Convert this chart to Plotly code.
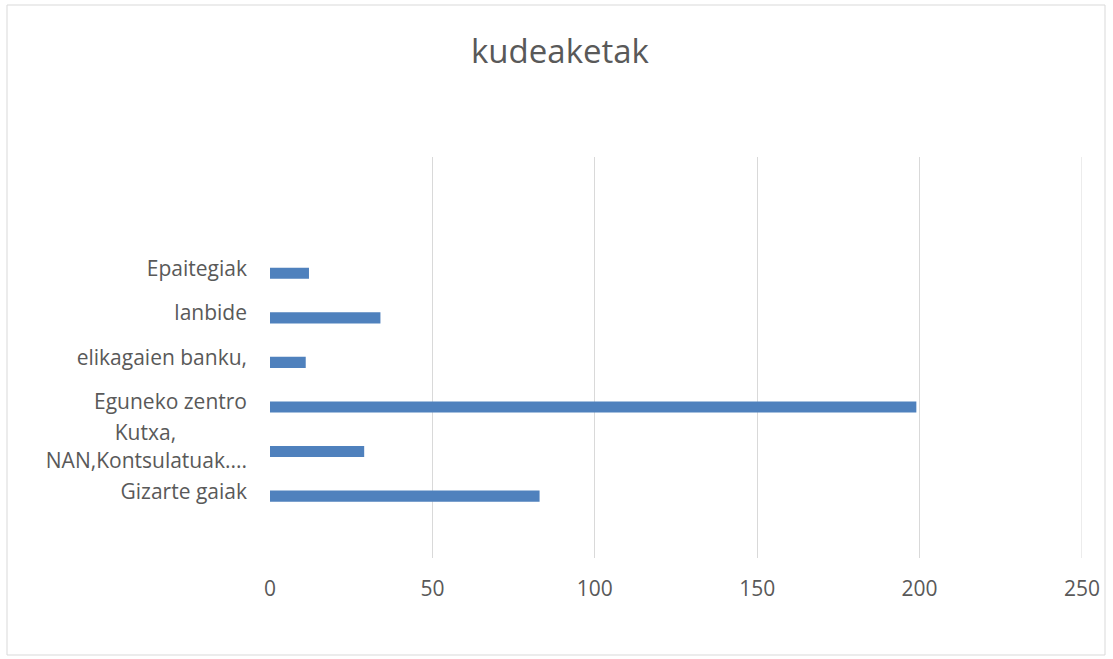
import plotly.graph_objects as go

title_text = "kudeaketak"
categories = ["Gizarte gaiak", "Kutxa," + "\u00a0" * 13 + "<br>NAN,Kontsulatuak....",
              "Eguneko zentro", "elikagaien banku,", "lanbide", "Epaitegiak"]
values = [83, 29, 199, 11, 34, 12]
x_ticks = [0, 50, 100, 150, 200, 250]

positions = list(range(len(categories)))

W, H = 1113, 659
L, R, T, B = 270, 31, 157, 101
pw, ph = W - L - R, H - T - B

fig = go.Figure()
fig.add_trace(go.Bar(
    x=values, y=positions, orientation="h",
    marker=dict(color="#4F81BD", line=dict(width=0)),
    width=0.25, offset=-0.235,
    showlegend=False, hoverinfo="skip",
))

text_color = "#595959"
grid_color = "#D9D9D9"
fig.update_layout(
    width=W, height=H,
    margin=dict(l=L, r=R, t=T, b=B),
    paper_bgcolor="white", plot_bgcolor="white",
    font=dict(family="'Open Sans', Lato, sans-serif", color=text_color),
    title=dict(text=title_text, x=(560 / W), xanchor="center", xref="container",
               y=1 - 51 / H, yanchor="middle", yref="container",
               font=dict(size=33, color=text_color)),
    xaxis=dict(range=[0, x_ticks[-1]], tickvals=x_ticks, ticktext=[str(v) for v in x_ticks],
               showgrid=True, gridcolor=grid_color, gridwidth=1,
               zeroline=False, showline=False, ticks="",
               tickfont=dict(size=21, color=text_color),
               ticklabelstandoff=16, fixedrange=True),
    yaxis=dict(range=[-1.5, 7.5], tickvals=positions, ticktext=categories,
               showgrid=False, zeroline=False, showline=False, ticks="",
               tickfont=dict(size=21, color=text_color),
               ticklabelstandoff=22, fixedrange=True),
    shapes=[
        dict(type="rect", xref="paper", yref="paper",
             x0=(7 - L) / pw, x1=(1105 - L) / pw,
             y0=-(655 - (H - B)) / ph, y1=(H - B - 5) / ph,
             line=dict(color=grid_color, width=1), fillcolor="rgba(0,0,0,0)", layer="below"),
        dict(type="line", xref="x", yref="paper", x0=x_ticks[-1], x1=x_ticks[-1], y0=0, y1=1,
             line=dict(color=grid_color, width=1), layer="below"),
    ],
)

fig.write_html("out.html", config={"displayModeBar": False},
               post_script="document.body.style.margin='0px';document.body.style.overflow='hidden';")
